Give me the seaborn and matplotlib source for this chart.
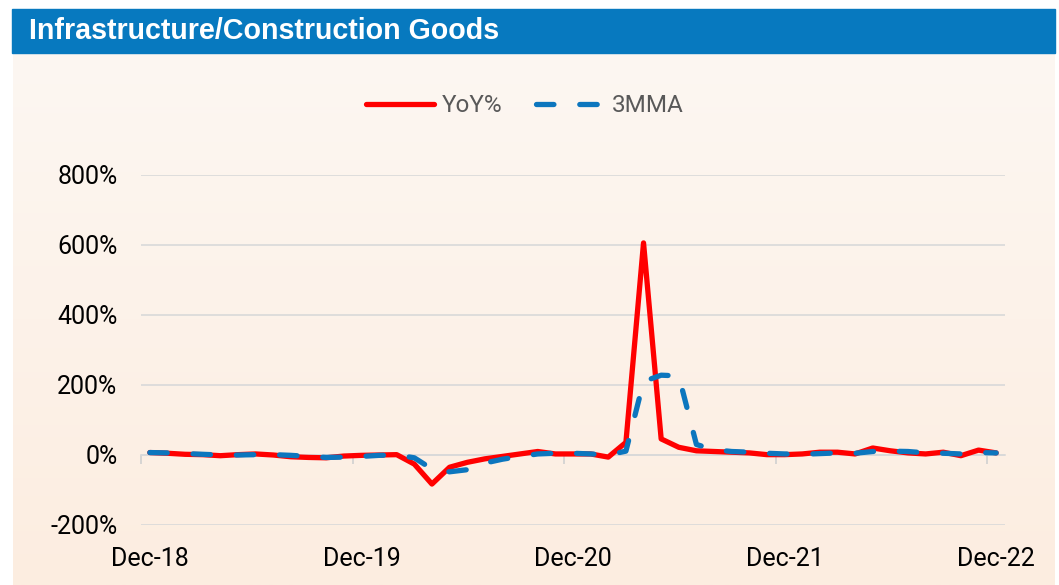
import numpy as np
import pandas as pd
import matplotlib
matplotlib.use('Agg')
import matplotlib.pyplot as plt
import seaborn as sns
from matplotlib.patches import Rectangle

# dati (mensili, da Dec-18 a Dec-22)
months = pd.date_range('2018-12-01', periods=49, freq='MS').strftime('%b-%y')
yoy = [7, 5, 2, 1, -2, 1, 3, 0, -5, -7, -8, -3,
       -1, 0, 1, -26, -83, -35, -21, -11, -4, 3, 10, 3,
       3, 3, -6, 36, 606, 46, 22, 12, 10, 8, 6, 1,
       1, 3, 8, 8, 3, 20, 12, 6, 3, 8, -2, 14, 6]
mma3 = [7, 6, 4, 2, 0, 0, 1, 1, -1, -4, -7, -6,
        -4, -1, 0, -8, -40, -48, -42, -23, -12, -4, 3, 5,
        5, 3, 0, 11, 210, 228, 226, 30, 15, 10, 8, 5,
        3, 2, 4, 6, 5, 10, 11, 10, 6, 5, 3, 7, 6]
tick_labels = ['Dec-18', 'Dec-19', 'Dec-20', 'Dec-21', 'Dec-22']
y_ticks = [-200, 0, 200, 400, 600, 800]

df = pd.DataFrame({'pos': np.arange(len(months)), 'month': months,
                   'YoY%': yoy, '3MMA': mma3})
print(df.head())

sns.set_theme(style='white')
plt.rcParams['font.family'] = ['Roboto', 'DejaVu Sans']

W, H = 1059, 585
fig = plt.figure(figsize=(W / 100, H / 100), dpi=100)
fig.patch.set_facecolor('white')

# sfondo del pannello con gradiente
bg = fig.add_axes([13 / W, 0, 1042 / W, 532 / H])
grad = np.linspace(0, 1, 256).reshape(-1, 1, 1)
top_col = np.array([252, 247, 242]) / 255
bot_col = np.array([253, 237, 224]) / 255
bg.imshow(top_col + (bot_col - top_col) * grad, aspect='auto', extent=[0, 1, 0, 1])
bg.axis('off')

# barra del titolo
fig.patches.append(Rectangle((12 / W, 532 / H), 1043 / W, 44 / H,
                             transform=fig.transFigure, color='#0779BF', zorder=0))
fig.text(29 / W, 1 - 31 / H, 'Infrastructure/Construction Goods', color='white',
         fontsize=20.6, fontweight='bold', family=['Liberation Sans', 'DejaVu Sans'],
         va='center', ha='left')

ax = fig.add_axes([141 / W, 1 - 525 / H, 864 / W, 350 / H])
ax.patch.set_alpha(0)

sns.lineplot(data=df, x='pos', y='YoY%', ax=ax, color='#FF0000', lw=3.8,
             label='YoY%', solid_capstyle='round')
sns.lineplot(data=df, x='pos', y='3MMA', ax=ax, color='#0C76BE', lw=3.8,
             ls=(0, (3.3, 4.9)), dash_capstyle='round', label='3MMA')

ax.set_ylim(-200, 800)
ax.set_yticks(y_ticks)
ax.set_yticklabels([f'{v}%' for v in y_ticks])
ax.yaxis.grid(True, color='#D9D9D9', lw=1.2)
ax.xaxis.grid(False)
ax.tick_params(axis='y', length=0, pad=17, labelsize=18, labelcolor='black')

ax.set_xlim(-0.5, len(months) - 0.5)
ax.set_xticks(range(0, len(months), 12), tick_labels)
ax.tick_params(axis='x', length=0, pad=16, labelsize=18, labelcolor='black')
ax.set_xlabel('')
ax.set_ylabel('')
sns.despine(ax=ax, left=True, bottom=True)

# asse x che incrocia lo zero, tacche tra le categorie
sec = ax.secondary_xaxis(0, transform=ax.transData)
sec.set_xticks(np.arange(-0.5, len(months) - 1, 12))
sec.tick_params(direction='out', length=6.5, width=1.2, color='#D0D0D0', labelbottom=False)
for s in sec.spines.values():
    s.set_color('#D9D9D9')
    s.set_linewidth(1.2)

ax.legend(loc='center', bbox_to_anchor=(525 / W, 1 - 106 / H),
          bbox_transform=fig.transFigure, ncol=2, frameon=False, fontsize=17.5,
          handlelength=2.8, handletextpad=0.3, columnspacing=1.4,
          labelcolor='#595959')

fig.savefig('out.png', dpi=100)
